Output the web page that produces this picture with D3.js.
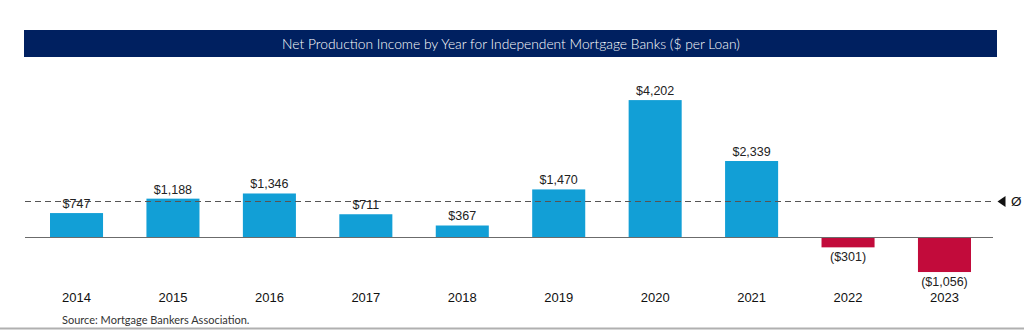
<!DOCTYPE html>
<html>
<head>
<meta charset="utf-8">
<script src="https://cdn.jsdelivr.net/npm/d3@7"></script>
<style>
  html, body { margin: 0; padding: 0; background: #fff; }
  svg { display: block; }
</style>
</head>
<body>
<svg id="chart" width="1024" height="330"></svg>
<script>
// Net production income per loan, independent mortgage banks
const years = ["2014", "2015", "2016", "2017", "2018", "2019", "2020", "2021", "2022", "2023"];
const values = [747, 1188, 1346, 711, 367, 1470, 4202, 2339, -301, -1056];
const titleText = "Net Production Income by Year for Independent Mortgage Banks ($ per Loan)";
const sourceText = "Source: Mortgage Bankers Association.";

const fmt = v => {
  const s = "$" + d3.format(",")(Math.abs(v));
  return v < 0 ? "(" + s + ")" : s;
};

const svg = d3.select("#chart");
const W = 1024, H = 330;

// Title banner
svg.append("rect")
  .attr("x", 24).attr("y", 30).attr("width", 973).attr("height", 27)
  .attr("fill", "#002060");
svg.append("text")
  .attr("x", 511).attr("y", 48.5)
  .attr("text-anchor", "middle")
  .attr("font-family", "Lato, 'Open Sans', sans-serif")
  .attr("font-weight", 300)
  .attr("font-size", 13.8)
  .attr("fill", "#fff")
  .text(titleText);

const x = d3.scaleBand()
  .domain(years)
  .range([28.3, 992.7])
  .paddingInner(0.45)
  .paddingOuter(0.225);

const y = d3.scaleLinear()
  .domain([-1500, 4500])
  .range([237.5 + 1500 * 0.0327, 237.5 - 4500 * 0.0327]);

const data = years.map((yr, i) => ({ year: yr, value: values[i] }));

// Bars
svg.append("g").selectAll("rect")
  .data(data)
  .join("rect")
  .attr("x", d => x(d.year))
  .attr("width", x.bandwidth())
  .attr("y", d => y(Math.max(0, d.value)))
  .attr("height", d => Math.abs(y(d.value) - y(0)))
  .attr("fill", d => d.value >= 0 ? "#129fd6" : "#c20b3b");

// Zero baseline
svg.append("line")
  .attr("x1", 25).attr("x2", 993)
  .attr("y1", y(0)).attr("y2", y(0))
  .attr("stroke", "#6b6b6b").attr("stroke-width", 1.2);

// Average line with marker
const avg = d3.mean(values);
svg.append("line")
  .attr("x1", 25).attr("x2", 995)
  .attr("y1", y(avg)).attr("y2", y(avg))
  .attr("stroke", "#555").attr("stroke-width", 1.1)
  .attr("stroke-dasharray", "6,4");
svg.append("path")
  .attr("d", `M${997.5},${y(avg)} L${1005.5},${y(avg) - 5.5} L${1005.5},${y(avg) + 5.5} Z`)
  .attr("fill", "#111");
svg.append("text")
  .attr("x", 1011).attr("y", y(avg) + 5)
  .attr("font-family", "'Liberation Sans', Arial, sans-serif")
  .attr("font-size", 13.5)
  .attr("fill", "#111")
  .text("Ø");

// Value labels
svg.append("g").selectAll("text")
  .data(data)
  .join("text")
  .attr("x", d => x(d.year) + x.bandwidth() / 2)
  .attr("y", d => d.value >= 0 ? y(d.value) - 5 : y(d.value) + 14)
  .attr("text-anchor", "middle")
  .attr("font-family", "'Liberation Sans', Arial, sans-serif")
  .attr("font-size", 12.5)
  .attr("fill", "#222")
  .text(d => fmt(d.value));

// Year axis labels
const xAxis = d3.axisBottom(x).tickSize(0).tickPadding(0);
const gx = svg.append("g")
  .attr("transform", "translate(0,293)")
  .call(xAxis);
gx.select(".domain").remove();
gx.selectAll("text")
  .attr("font-family", "'Liberation Sans', Arial, sans-serif")
  .attr("font-size", 13)
  .attr("fill", "#111");

// Source note
svg.append("text")
  .attr("x", 62).attr("y", 324)
  .attr("font-family", "Lato, 'Open Sans', sans-serif")
  .attr("font-size", 11)
  .attr("fill", "#333")
  .text(sourceText);

// Footer rule
svg.append("line")
  .attr("x1", 0).attr("x2", W)
  .attr("y1", 328.5).attr("y2", 328.5)
  .attr("stroke", "#b0b0b0").attr("stroke-width", 2);
</script>
</body>
</html>
